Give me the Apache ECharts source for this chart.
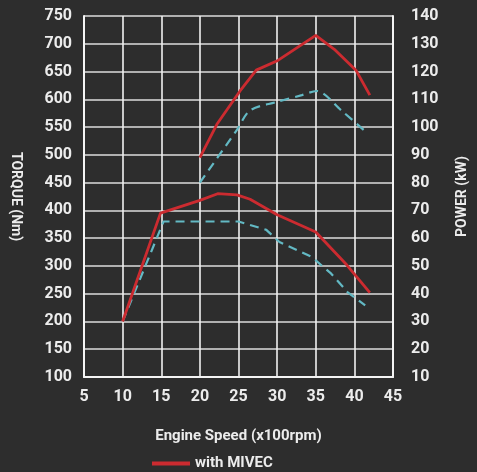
<!DOCTYPE html>
<html>
<head>
<meta charset="utf-8">
<script src="https://cdn.jsdelivr.net/npm/echarts@6/dist/echarts.min.js"></script>
<style>
html,body{margin:0;padding:0;background:#2d2d2d;}
#c{width:477px;height:472px;}
</style>
</head>
<body>
<div id="c"></div>
<script>
// Engine speed (x100 rpm) sample points and values
var torqueMivecRpm = [10, 14.9, 20, 22.3, 24.8, 26.5, 30, 35, 39, 42];
var torqueMivec    = [200, 395, 418, 430, 428, 420, 392, 361, 302, 252];
var torqueStdRpm   = [10, 15.3, 20, 25, 28.6, 30.3, 34.5, 37, 39.1, 41.4];
var torqueStd      = [200, 380, 380, 380, 365, 343, 316, 286, 253, 229];
var powerMivecRpm  = [20, 22.2, 25.2, 27.3, 30.1, 35, 37.4, 40.2, 42];
var powerMivec     = [89, 101, 113, 120.5, 124, 133, 128, 120.5, 111.5];
var powerStdRpm    = [20, 24.8, 26.5, 29.9, 33.2, 35.1, 38.3, 41.6];
var powerStd       = [80, 99, 106, 109, 111.5, 113, 106, 98];

function pairs(xs, ys){ return xs.map(function(x,i){ return [x, ys[i]]; }); }

var FONT = "'Roboto', 'Liberation Sans', sans-serif";
var RED = '#cc2b30';
var CYAN = '#63b9c4';
var TXT = '#ececec';

var chart = echarts.init(document.getElementById('c'));
chart.setOption({
  backgroundColor: '#2d2d2d',
  animation: false,
  grid: {left: 80, right: 80, top: 16, bottom: 95},
  legend: {
    data: ['with MIVEC'],
    left: 147, top: 451,
    icon: 'rect', itemWidth: 38, itemHeight: 4, itemGap: 10,
    textStyle: {color: TXT, fontFamily: FONT, fontWeight: 'bold', fontSize: 15}
  },
  xAxis: {
    type: 'value', min: 5, max: 45, interval: 5,
    name: 'Engine Speed (x100rpm)', nameLocation: 'middle', nameGap: 52,
    nameTextStyle: {color: TXT, fontFamily: FONT, fontWeight: 'bold', fontSize: 15},
    axisLine: {show: true, lineStyle: {color: '#f4f4f4', width: 2}},
    axisTick: {show: false},
    axisLabel: {color: TXT, fontFamily: FONT, fontWeight: 'bold', fontSize: 16, margin: 12},
    splitLine: {show: true, lineStyle: {color: '#f0f0f0', width: 1.6}}
  },
  yAxis: [{
    type: 'value', min: 100, max: 750, interval: 50, position: 'left',
    name: 'TORQUE (Nm)', nameLocation: 'middle', nameGap: 62, nameRotate: -90,
    nameTextStyle: {color: TXT, fontFamily: FONT, fontWeight: 'bold', fontSize: 14},
    axisLine: {show: true, lineStyle: {color: '#f4f4f4', width: 2}},
    axisTick: {show: false},
    axisLabel: {color: TXT, fontFamily: FONT, fontWeight: 'bold', fontSize: 16, margin: 12},
    splitLine: {show: true, lineStyle: {color: '#dcdcdc', width: 1.6}}
  }, {
    type: 'value', min: 10, max: 140, interval: 10, position: 'right',
    name: 'POWER (kW)', nameLocation: 'middle', nameGap: 62, nameRotate: 90,
    nameTextStyle: {color: TXT, fontFamily: FONT, fontWeight: 'bold', fontSize: 14},
    axisLine: {show: true, lineStyle: {color: '#f4f4f4', width: 2}},
    axisTick: {show: false},
    axisLabel: {color: TXT, fontFamily: FONT, fontWeight: 'bold', fontSize: 16, margin: 18},
    splitLine: {show: false}
  }],
  series: [
    {name: 'without MIVEC', type: 'line', yAxisIndex: 0, data: pairs(torqueStdRpm, torqueStd),
     symbol: 'none', lineStyle: {color: CYAN, width: 2.2, type: [9, 6]}, itemStyle: {color: CYAN}},
    {name: 'without MIVEC', type: 'line', yAxisIndex: 1, data: pairs(powerStdRpm, powerStd), smooth: 0.3,
     symbol: 'none', lineStyle: {color: CYAN, width: 2.2, type: [9, 6]}, itemStyle: {color: CYAN}},
    {name: 'with MIVEC', type: 'line', yAxisIndex: 0, data: pairs(torqueMivecRpm, torqueMivec),
     symbol: 'none', lineStyle: {color: RED, width: 2.8}, itemStyle: {color: RED}},
    {name: 'with MIVEC', type: 'line', yAxisIndex: 1, data: pairs(powerMivecRpm, powerMivec),
     symbol: 'none', lineStyle: {color: RED, width: 2.8}, itemStyle: {color: RED}}
  ]
});
</script>
</body>
</html>
